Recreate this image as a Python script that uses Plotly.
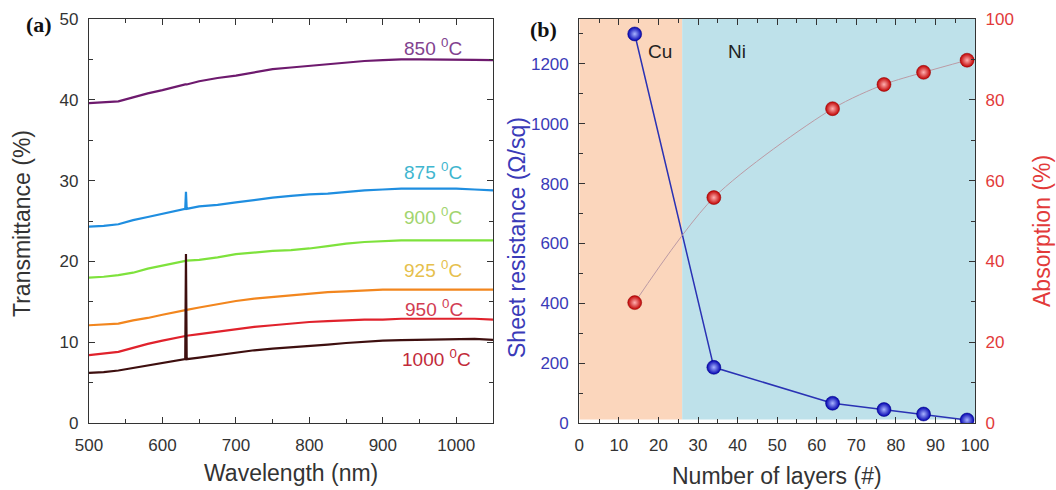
import plotly.graph_objects as go

# ---------------- Panel (a) data: transmittance spectra ----------------
wavelength = [500, 520, 540, 560, 580, 600, 620, 631, 632, 633, 650, 675, 700, 725, 750,
              775, 800, 825, 850, 875, 900, 925, 950, 975, 1000, 1025, 1050]
t_850 = [39.6, 39.7, 39.8, 40.3, 40.8, 41.2, 41.7, 41.9, 41.9, 41.9, 42.3, 42.7, 43.0, 43.4, 43.8,
         44.0, 44.2, 44.4, 44.6, 44.8, 44.9, 45.0, 45.0, 45.0, 45.0, 44.95, 44.9]
t_875 = [24.3, 24.4, 24.6, 25.1, 25.5, 25.9, 26.3, 26.5, 28.6, 26.5, 26.8, 27.0, 27.3, 27.6, 27.9,
         28.1, 28.3, 28.4, 28.6, 28.8, 28.9, 29.0, 29.0, 29.0, 29.0, 28.9, 28.8]
t_900 = [18.0, 18.1, 18.3, 18.6, 19.1, 19.5, 19.9, 20.1, 20.1, 20.1, 20.2, 20.5, 20.9, 21.1, 21.3,
         21.4, 21.6, 21.9, 22.2, 22.4, 22.5, 22.6, 22.6, 22.6, 22.6, 22.6, 22.6]
t_925 = [12.1, 12.2, 12.3, 12.7, 13.0, 13.4, 13.8, 14.0, 14.0, 14.0, 14.3, 14.7, 15.1, 15.4, 15.6,
         15.8, 16.0, 16.2, 16.3, 16.4, 16.5, 16.5, 16.5, 16.5, 16.5, 16.5, 16.5]
t_950 = [8.4, 8.6, 8.8, 9.3, 9.8, 10.2, 10.6, 10.8, 10.8, 10.8, 11.0, 11.3, 11.6, 11.9, 12.1,
         12.3, 12.5, 12.6, 12.7, 12.8, 12.8, 12.9, 12.9, 12.9, 12.9, 12.9, 12.8]
t_1000 = [6.2, 6.3, 6.5, 6.8, 7.1, 7.4, 7.7, 7.9, 20.9, 7.9, 8.1, 8.4, 8.7, 9.0, 9.2,
          9.35, 9.5, 9.7, 9.9, 10.05, 10.2, 10.25, 10.3, 10.35, 10.4, 10.4, 10.3]

series_names = ["850", "875", "900", "925", "950", "1000"]
series_values = [t_850, t_875, t_900, t_925, t_950, t_1000]
line_colors = ["#6e1a6e", "#1f8ee0", "#7ee23c", "#f2861e", "#e0222c", "#3e0f0f"]
label_colors = ["#82428f", "#3fb6cf", "#a2d46e", "#e6c04c", "#d23c52", "#c22a3a"]
label_x = [968, 968, 968, 968, 970, 973]
label_y = [46.5, 31.2, 25.6, 19.0, 14.2, 8.1]

# ---------------- Panel (b) data ----------------
layers = [14, 34, 64, 77, 87, 98]
sheet_resistance = [1300, 186, 66, 45, 30, 10]
absorption = [29.8, 55.8, 77.8, 83.8, 86.8, 89.8]
cu_region = [0, 26]
ni_region = [26, 100]

FONT = "Liberation Sans, Arial, sans-serif"
AX = "#333333"
BLUE_T = "#3a3ab8"
RED_T = "#e23a3a"

fig = go.Figure()

for name, vals, col in zip(series_names, series_values, line_colors):
    fig.add_trace(go.Scatter(x=wavelength, y=vals, mode="lines", name=name + " °C",
                             line=dict(color=col, width=2.2), xaxis="x", yaxis="y",
                             showlegend=False))

# shading regions panel (b)
fig.add_shape(type="rect", xref="x2", yref="y2", x0=cu_region[0], x1=cu_region[1], y0=12, y1=1350,
              fillcolor="#fbd6bc", line_width=0, layer="below")
fig.add_shape(type="rect", xref="x2", yref="y2", x0=ni_region[0], x1=ni_region[1], y0=12, y1=1350,
              fillcolor="#bee1ea", line_width=0, layer="below")

fig.add_trace(go.Scatter(x=layers, y=absorption, mode="lines+markers", xaxis="x2", yaxis="y3",
                         line=dict(color="#bb9aa4", width=1, shape="spline", smoothing=0.8),
                         marker=dict(size=14, color="#c00000",
                                     gradient=dict(type="radial", color="#ffb0b0"),
                                     line=dict(width=0.5, color="#900000")),
                         showlegend=False))
fig.add_trace(go.Scatter(x=layers, y=sheet_resistance, mode="lines+markers", xaxis="x2", yaxis="y2",
                         line=dict(color="#2a32b4", width=1.5),
                         marker=dict(size=14, color="#0000b0",
                                     gradient=dict(type="radial", color="#a8b4ff"),
                                     line=dict(width=0.5, color="#000080")),
                         showlegend=False))

tick_font = dict(family=FONT, size=17, color=AX)
common = dict(showline=True, linecolor=AX, linewidth=1.3, ticks="inside", ticklen=6,
              tickcolor=AX, tickwidth=1.2, showgrid=False, zeroline=False,
              ticklabelstandoff=6, automargin=False)


def paper_text(px, py, text, size, color, angle=0, family=FONT):
    return dict(x=px / 1056, y=1 - py / 490, xref="paper", yref="paper", text=text,
                textangle=angle, showarrow=False, xanchor="center", yanchor="middle",
                font=dict(family=family, size=size, color=color))


ann = []
for name, col, lx, ly in zip(series_names, label_colors, label_x, label_y):
    ann.append(dict(x=lx, y=ly, xref="x", yref="y", text=name + " <sup>0</sup>C", showarrow=False,
                    font=dict(family=FONT, size=19, color=col), xanchor="center", yanchor="middle"))

SERIF = "Liberation Serif, Times New Roman, serif"
ann += [
    paper_text(39, 24, "<b>(a)</b>", 22, "#111", family=SERIF),
    paper_text(543, 30, "<b>(b)</b>", 22, "#111", family=SERIF),
    paper_text(22, 224, "Transmittance (%)", 23, AX, angle=-90),
    paper_text(291, 473, "Wavelength (nm)", 23, AX),
    paper_text(517, 238, "Sheet resistance (Ω/sq)", 23, BLUE_T, angle=-90),
    paper_text(1042, 231, "Absorption (%)", 23, RED_T, angle=-90),
    paper_text(777, 476, "Number of layers (#)", 23, AX),
    dict(x=20.4, y=1240, xref="x2", yref="y2", text="Cu", showarrow=False,
         xanchor="center", yanchor="middle", font=dict(family=FONT, size=19, color="#222")),
    dict(x=39.8, y=1240, xref="x2", yref="y2", text="Ni", showarrow=False,
         xanchor="center", yanchor="middle", font=dict(family=FONT, size=19, color="#222")),
]

ydom = [67 / 490, 471 / 490]
fig.update_layout(
    width=1056, height=490, margin=dict(l=0, r=0, t=0, b=0, autoexpand=False),
    paper_bgcolor="white", plot_bgcolor="white",
    font=dict(family=FONT),
    xaxis=dict(domain=[89 / 1056, 493 / 1056], range=[500, 1050], anchor="y",
               tickvals=[500, 600, 700, 800, 900, 1000], mirror="ticks", tickfont=tick_font,
               minor=dict(ticks="inside", ticklen=3.5, tickcolor=AX, dtick=50, tick0=500),
               **common),
    yaxis=dict(domain=ydom, range=[0, 50], anchor="x", tickvals=[0, 10, 20, 30, 40, 50],
               mirror="ticks", tickfont=tick_font,
               minor=dict(ticks="inside", ticklen=3.5, tickcolor=AX, dtick=5, tick0=0),
               **common),
    xaxis2=dict(domain=[579.3 / 1056, 975 / 1056], range=[0, 100], anchor="y2",
                tickvals=list(range(0, 101, 10)), mirror="ticks", tickfont=tick_font,
                minor=dict(ticks="inside", ticklen=3.5, tickcolor=AX, dtick=5, tick0=0),
                **common),
    yaxis2=dict(domain=ydom, range=[0, 1350], anchor="x2",
                tickvals=[0, 200, 400, 600, 800, 1000, 1200],
                tickfont=dict(family=FONT, size=17, color=BLUE_T),
                minor=dict(ticks="inside", ticklen=3.5, tickcolor=AX, dtick=100, tick0=0),
                **common),
    yaxis3=dict(domain=ydom, range=[0, 100], anchor="x2", overlaying="y2", side="right",
                tickvals=[0, 20, 40, 60, 80, 100],
                tickfont=dict(family=FONT, size=17, color=RED_T),
                minor=dict(ticks="inside", ticklen=3.5, tickcolor=AX, dtick=10, tick0=0),
                **common),
    annotations=ann,
)

fig.write_html("out.html")
